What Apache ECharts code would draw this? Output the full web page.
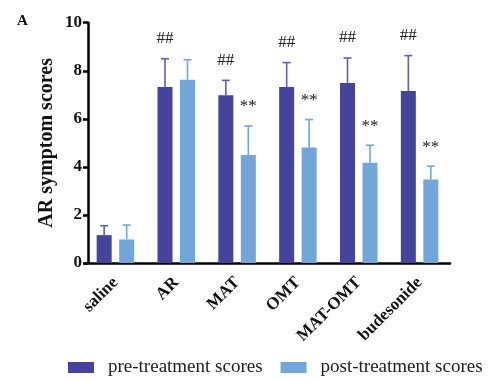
<!DOCTYPE html>
<html>
<head>
<meta charset="utf-8">
<script src="https://cdn.jsdelivr.net/npm/echarts@6/dist/echarts.min.js"></script>
<style>
  html, body { margin: 0; padding: 0; background: #fff; }
  #chart { width: 488px; height: 382px; }
</style>
</head>
<body>
<div id="chart"></div>
<script>
// Groups and scores (mean and mean + SD) for each treatment arm
const groups = ['saline', 'AR', 'MAT', 'OMT', 'MAT-OMT', 'budesonide'];
const preMean = [1.16, 7.32, 6.98, 7.32, 7.49, 7.16];
const preUpper = [1.55, 8.50, 7.60, 8.34, 8.53, 8.63];
const postMean = [0.98, 7.63, 4.49, 4.81, 4.17, 3.48];
const postUpper = [1.58, 8.46, 5.70, 5.97, 4.90, 4.03];
// Significance marks shown above each bar
const preMarks = ['', '##', '##', '##', '##', '##'];
const postMarks = ['', '', '**', '**', '**', '**'];
const yTicks = [0, 2, 4, 6, 8, 10];

const SERIF = '"Liberation Serif", "Times New Roman", serif';
const PRE_COLOR = '#44449a';
const POST_COLOR = '#72a6d9';
const BAR_W = 15;
const BAR_GAP = 7.5;
const SHIFT = (BAR_W + BAR_GAP) / 2;

function errorSeries(name, upper, means, marks, shift, color, lineColor, markDy) {
  return {
    type: 'custom',
    name: name + ' SD',
    z: 5,
    data: groups.map((g, i) => [i, means[i], upper[i], marks[i]]),
    renderItem: function (params, api) {
      const top = api.coord([api.value(0), api.value(2)]);
      const base = api.coord([api.value(0), api.value(1)]);
      const x = top[0] + shift;
      const cap = 4;
      const children = [
        { type: 'line', shape: { x1: x, y1: base[1], x2: x, y2: top[1] },
          style: { stroke: lineColor, lineWidth: 1.6 } },
        { type: 'line', shape: { x1: x - cap, y1: top[1], x2: x + cap, y2: top[1] },
          style: { stroke: lineColor, lineWidth: 1.6 } }
      ];
      const mark = marks[params.dataIndex];
      if (mark) {
        children.push({
          type: 'text',
          style: {
            text: mark, x: x, y: top[1] - markDy,
            align: 'center', verticalAlign: 'middle',
            font: '17px ' + SERIF, fill: '#222'
          }
        });
      }
      return { type: 'group', children: children };
    }
  };
}

const chart = echarts.init(document.getElementById('chart'), null, { renderer: 'canvas' });
chart.setOption({
  animation: false,
  backgroundColor: '#fff',
  title: {
    text: 'A', left: 12, top: 9,
    textStyle: { fontFamily: SERIF, fontWeight: 'bold', fontSize: 15, color: '#111' }
  },
  grid: { left: 85, right: 38, top: 22.7, bottom: 119, containLabel: false },
  legend: {
    left: 68, top: 358, padding: 0,
    itemWidth: 26, itemHeight: 11, itemGap: 18,
    icon: 'rect',
    data: ['pre-treatment scores', 'post-treatment scores'],
    textStyle: { fontFamily: SERIF, fontSize: 19, color: '#222', padding: [0, 0, 0, 9] }
  },
  xAxis: {
    type: 'category',
    data: groups,
    axisLine: { lineStyle: { color: '#000', width: 2.5 } },
    axisTick: { show: false },
    axisLabel: {
      rotate: 45, margin: 17, interval: 0,
      fontFamily: SERIF, fontWeight: 'bold', fontSize: 17, color: '#111'
    }
  },
  yAxis: {
    type: 'value',
    min: yTicks[0], max: yTicks[yTicks.length - 1], interval: 2,
    offset: -3,
    name: 'AR symptom scores',
    nameLocation: 'middle',
    nameGap: 31,
    nameMoveOverlap: false,
    nameTextStyle: { fontFamily: SERIF, fontWeight: 'bold', fontSize: 20, color: '#111' },
    axisLine: { show: true, lineStyle: { color: '#000', width: 2.5 } },
    axisTick: { show: true, length: 5, lineStyle: { color: '#000', width: 2.5 } },
    splitLine: { show: false },
    axisLabel: {
      margin: 6,
      fontFamily: SERIF, fontWeight: 'bold', fontSize: 17, color: '#111'
    }
  },
  series: [
    {
      name: 'pre-treatment scores', type: 'bar',
      data: preMean, barWidth: BAR_W, barGap: (BAR_GAP / BAR_W * 100) + '%',
      itemStyle: { color: PRE_COLOR }
    },
    {
      name: 'post-treatment scores', type: 'bar',
      data: postMean, barWidth: BAR_W,
      itemStyle: { color: POST_COLOR }
    },
    errorSeries('pre', preUpper, preMean, preMarks, -SHIFT, PRE_COLOR, '#5e60b3', 20),
    errorSeries('post', postUpper, postMean, postMarks, SHIFT, POST_COLOR, POST_COLOR, 19)
  ]
});
</script>
</body>
</html>
